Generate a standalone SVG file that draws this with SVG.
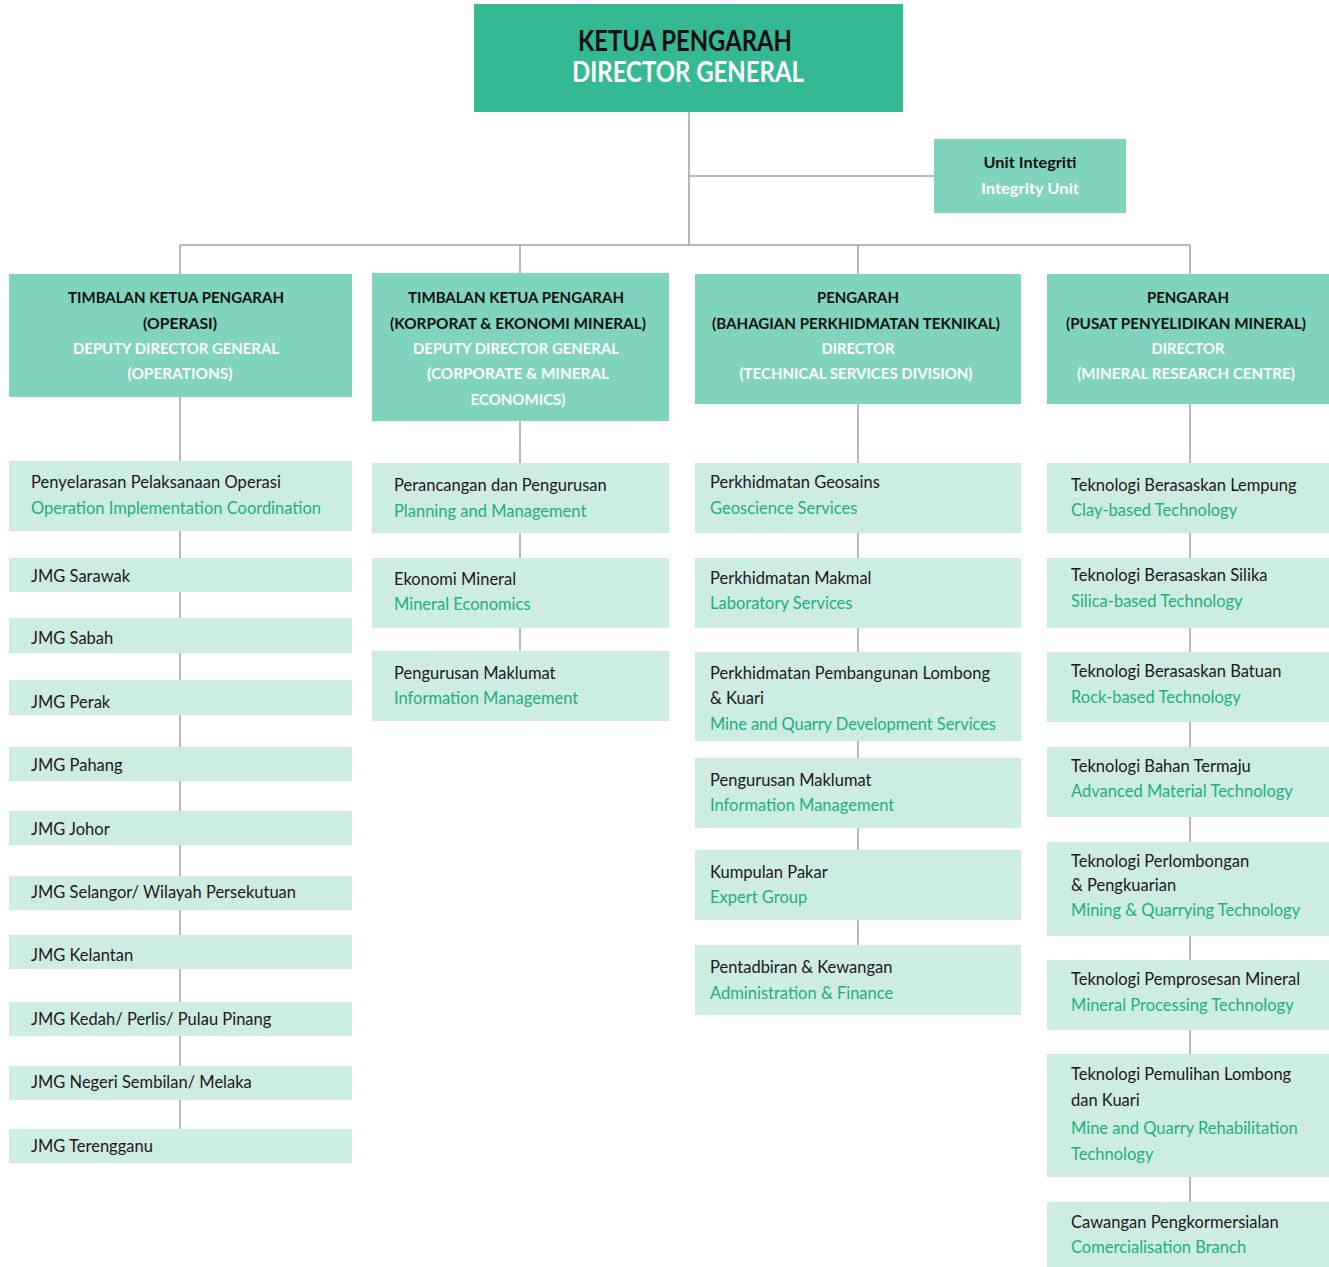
<svg xmlns="http://www.w3.org/2000/svg" width="1329" height="1267" viewBox="0 0 1329 1267">
<style>
text{font-family:Lato,"Open Sans","Liberation Sans",sans-serif}
.top{fill:#35b995}
.mid{fill:#80d4bd}
.leaf{fill:#cdece2}
.ln{stroke:#a3a3a3;stroke-width:1.5;fill:none}
.hb{font-weight:bold;font-size:16px;text-anchor:middle;fill:#111}
.hw{font-weight:bold;font-size:16px;text-anchor:middle;fill:#fff}
.t{font-size:16.5px;fill:#1a1a1a}
.g{font-size:16.5px;fill:#1fae7f}
</style>
<rect width="1329" height="1267" fill="#fff"/>
<g id="connectors">
<path class="ln" d="M689 112V245M689 176H936M180 245H1190M180 245V1129M520 245V651M858 245V945M1190 245V1202"/>
</g>
<g id="dg"><rect class="top" x="474" y="4" width="429" height="108"/>
<text x="685" y="51" font-size="28" font-weight="bold" text-anchor="middle" fill="#111" textLength="214" lengthAdjust="spacingAndGlyphs">KETUA PENGARAH</text>
<text x="688" y="82" font-size="28" font-weight="bold" text-anchor="middle" fill="#fff" textLength="232" lengthAdjust="spacingAndGlyphs">DIRECTOR GENERAL</text></g>
<g id="integrity"><rect class="mid" x="934" y="139" width="192" height="74"/>
<text class="hb" x="1030" y="168" textLength="93" lengthAdjust="spacingAndGlyphs">Unit Integriti</text><text class="hw" x="1030" y="194" textLength="98" lengthAdjust="spacingAndGlyphs">Integrity Unit</text></g>
<g id="ddg-ops"><rect class="mid" x="9" y="274" width="343" height="123"/>
<text class="hb" x="176" y="303" textLength="216" lengthAdjust="spacingAndGlyphs">TIMBALAN KETUA PENGARAH</text><text class="hb" x="180" y="329" textLength="74" lengthAdjust="spacingAndGlyphs">(OPERASI)</text>
<text class="hw" x="176" y="354" textLength="206" lengthAdjust="spacingAndGlyphs">DEPUTY DIRECTOR GENERAL</text><text class="hw" x="180" y="379" textLength="105" lengthAdjust="spacingAndGlyphs">(OPERATIONS)</text></g>
<g id="ddg-corp"><rect class="mid" x="372" y="273" width="297" height="148"/>
<text class="hb" x="516" y="303" textLength="216" lengthAdjust="spacingAndGlyphs">TIMBALAN KETUA PENGARAH</text><text class="hb" x="518" y="329" textLength="256" lengthAdjust="spacingAndGlyphs">(KORPORAT &amp; EKONOMI MINERAL)</text>
<text class="hw" x="516" y="354" textLength="206" lengthAdjust="spacingAndGlyphs">DEPUTY DIRECTOR GENERAL</text><text class="hw" x="518" y="379" textLength="182" lengthAdjust="spacingAndGlyphs">(CORPORATE &amp; MINERAL</text><text class="hw" x="518" y="405" textLength="95" lengthAdjust="spacingAndGlyphs">ECONOMICS)</text></g>
<g id="dir-tech"><rect class="mid" x="695" y="274" width="326" height="130"/>
<text class="hb" x="858" y="303" textLength="82" lengthAdjust="spacingAndGlyphs">PENGARAH</text><text class="hb" x="856" y="329" textLength="288" lengthAdjust="spacingAndGlyphs">(BAHAGIAN PERKHIDMATAN TEKNIKAL)</text>
<text class="hw" x="858" y="354" textLength="73" lengthAdjust="spacingAndGlyphs">DIRECTOR</text><text class="hw" x="856" y="379" textLength="233" lengthAdjust="spacingAndGlyphs">(TECHNICAL SERVICES DIVISION)</text></g>
<g id="dir-mrc"><rect class="mid" x="1047" y="274" width="282" height="130"/>
<text class="hb" x="1188" y="303" textLength="82" lengthAdjust="spacingAndGlyphs">PENGARAH</text><text class="hb" x="1186" y="329" textLength="240" lengthAdjust="spacingAndGlyphs">(PUSAT PENYELIDIKAN MINERAL)</text>
<text class="hw" x="1188" y="354" textLength="73" lengthAdjust="spacingAndGlyphs">DIRECTOR</text><text class="hw" x="1186" y="379" textLength="218" lengthAdjust="spacingAndGlyphs">(MINERAL RESEARCH CENTRE)</text></g>

<g id="c1-1"><rect class="leaf" x="9" y="461" width="343" height="70"/><text class="t" x="31" y="488" textLength="250">Penyelarasan Pelaksanaan Operasi</text><text class="g" x="31" y="514" textLength="290">Operation Implementation Coordination</text></g>
<g id="c1-2"><rect class="leaf" x="9" y="558" width="343" height="34"/><text class="t" x="31" y="582">JMG Sarawak</text></g>
<g id="c1-3"><rect class="leaf" x="9" y="618" width="343" height="35"/><text class="t" x="31" y="644">JMG Sabah</text></g>
<g id="c1-4"><rect class="leaf" x="9" y="680" width="343" height="35"/><text class="t" x="31" y="708">JMG Perak</text></g>
<g id="c1-5"><rect class="leaf" x="9" y="747" width="343" height="34"/><text class="t" x="31" y="771">JMG Pahang</text></g>
<g id="c1-6"><rect class="leaf" x="9" y="811" width="343" height="34"/><text class="t" x="31" y="835">JMG Johor</text></g>
<g id="c1-7"><rect class="leaf" x="9" y="876" width="343" height="34"/><text class="t" x="31" y="898">JMG Selangor/ Wilayah Persekutuan</text></g>
<g id="c1-8"><rect class="leaf" x="9" y="935" width="343" height="34"/><text class="t" x="31" y="961">JMG Kelantan</text></g>
<g id="c1-9"><rect class="leaf" x="9" y="1002" width="343" height="34"/><text class="t" x="31" y="1025">JMG Kedah/ Perlis/ Pulau Pinang</text></g>
<g id="c1-10"><rect class="leaf" x="9" y="1066" width="343" height="34"/><text class="t" x="31" y="1088">JMG Negeri Sembilan/ Melaka</text></g>
<g id="c1-11"><rect class="leaf" x="9" y="1129" width="343" height="34"/><text class="t" x="31" y="1152">JMG Terengganu</text></g>

<g id="c2-1"><rect class="leaf" x="372" y="463" width="297" height="70"/><text class="t" x="394" y="491">Perancangan dan Pengurusan</text><text class="g" x="394" y="517">Planning and Management</text></g>
<g id="c2-2"><rect class="leaf" x="372" y="558" width="297" height="70"/><text class="t" x="394" y="585">Ekonomi Mineral</text><text class="g" x="394" y="610">Mineral Economics</text></g>
<g id="c2-3"><rect class="leaf" x="372" y="651" width="297" height="70"/><text class="t" x="394" y="679">Pengurusan Maklumat</text><text class="g" x="394" y="704">Information Management</text></g>

<g id="c3-1"><rect class="leaf" x="695" y="463" width="326" height="70"/><text class="t" x="710" y="488">Perkhidmatan Geosains</text><text class="g" x="710" y="514">Geoscience Services</text></g>
<g id="c3-2"><rect class="leaf" x="695" y="558" width="326" height="70"/><text class="t" x="710" y="584">Perkhidmatan Makmal</text><text class="g" x="710" y="609">Laboratory Services</text></g>
<g id="c3-3"><rect class="leaf" x="695" y="652" width="326" height="89"/><text class="t" x="710" y="679" textLength="280">Perkhidmatan Pembangunan Lombong</text><text class="t" x="710" y="704">&amp; Kuari</text><text class="g" x="710" y="730" textLength="286">Mine and Quarry Development Services</text></g>
<g id="c3-4"><rect class="leaf" x="695" y="758" width="326" height="70"/><text class="t" x="710" y="786">Pengurusan Maklumat</text><text class="g" x="710" y="811">Information Management</text></g>
<g id="c3-5"><rect class="leaf" x="695" y="850" width="326" height="70"/><text class="t" x="710" y="878">Kumpulan Pakar</text><text class="g" x="710" y="903">Expert Group</text></g>
<g id="c3-6"><rect class="leaf" x="695" y="945" width="326" height="70"/><text class="t" x="710" y="973">Pentadbiran &amp; Kewangan</text><text class="g" x="710" y="999">Administration &amp; Finance</text></g>

<g id="c4-1"><rect class="leaf" x="1047" y="463" width="282" height="70"/><text class="t" x="1071" y="491">Teknologi Berasaskan Lempung</text><text class="g" x="1071" y="516">Clay-based Technology</text></g>
<g id="c4-2"><rect class="leaf" x="1047" y="558" width="282" height="70"/><text class="t" x="1071" y="581">Teknologi Berasaskan Silika</text><text class="g" x="1071" y="607">Silica-based Technology</text></g>
<g id="c4-3"><rect class="leaf" x="1047" y="652" width="282" height="70"/><text class="t" x="1071" y="677">Teknologi Berasaskan Batuan</text><text class="g" x="1071" y="703">Rock-based Technology</text></g>
<g id="c4-4"><rect class="leaf" x="1047" y="747" width="282" height="70"/><text class="t" x="1071" y="772">Teknologi Bahan Termaju</text><text class="g" x="1071" y="797">Advanced Material Technology</text></g>
<g id="c4-5"><rect class="leaf" x="1047" y="842" width="282" height="94"/><text class="t" x="1071" y="867">Teknologi Perlombongan</text><text class="t" x="1071" y="891">&amp; Pengkuarian</text><text class="g" x="1071" y="916">Mining &amp; Quarrying Technology</text></g>
<g id="c4-6"><rect class="leaf" x="1047" y="960" width="282" height="70"/><text class="t" x="1071" y="985">Teknologi Pemprosesan Mineral</text><text class="g" x="1071" y="1011">Mineral Processing Technology</text></g>
<g id="c4-7"><rect class="leaf" x="1047" y="1054" width="282" height="123"/><text class="t" x="1071" y="1080">Teknologi Pemulihan Lombong</text><text class="t" x="1071" y="1106">dan Kuari</text><text class="g" x="1071" y="1134">Mine and Quarry Rehabilitation</text><text class="g" x="1071" y="1160">Technology</text></g>
<g id="c4-8"><rect class="leaf" x="1047" y="1202" width="282" height="65"/><text class="t" x="1071" y="1228">Cawangan Pengkormersialan</text><text class="g" x="1071" y="1253">Comercialisation Branch</text></g>
</svg>
